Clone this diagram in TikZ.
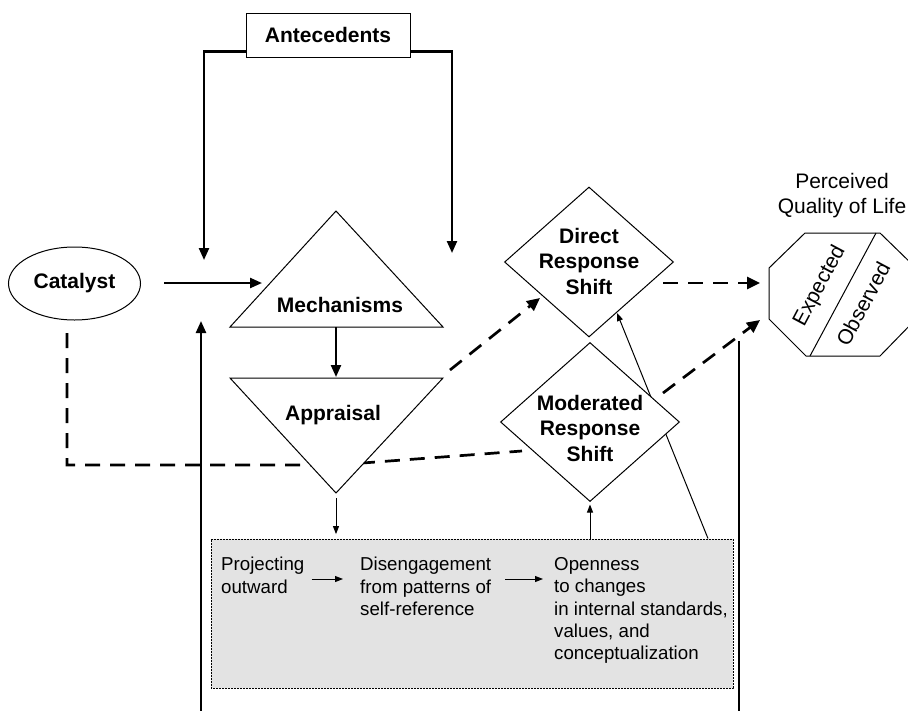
\documentclass[tikz,border=0pt]{standalone}
\usepackage{fontspec}
\setmainfont{Liberation Sans}
\usetikzlibrary{arrows.meta,shapes.geometric,calc}
\definecolor{boxgray}{RGB}{227,227,227}
\begin{document}
\begin{tikzpicture}[x=1pt,y=-1pt,
  outline/.style={draw=black,line width=1pt,line join=miter},
  boldlabel/.style={font=\fontsize{21}{25.5}\selectfont\bfseries,align=center,inner sep=0pt},
  plainlabel/.style={font=\fontsize{21}{25}\selectfont,align=center,inner sep=0pt},
  boxtext/.style={font=\fontsize{18.7}{22.4}\selectfont,align=left,inner sep=0pt,anchor=north west},
  thickarrow/.style={line width=2.3pt,-{Triangle[length=12pt,width=10pt]}},
  thickline/.style={line width=2.3pt},
  dasharrow/.style={line width=2.7pt,dash pattern=on 15pt off 10pt,-{Triangle[length=13pt,width=12pt]}},
  dashline/.style={line width=2.7pt,dash pattern=on 15pt off 10pt},
  thinarrow/.style={line width=1pt,-{Triangle[length=8pt,width=6pt]}},
  thinline/.style={line width=1pt},
]
\useasboundingbox (0,0) rectangle (908,710);
\clip (0,0) rectangle (908,710);

% ---------- gray box ----------
\node[draw=black,line width=0.8pt,dash pattern=on 0.8pt off 0.7pt,fill=boxgray,
      minimum width=522pt,minimum height=149pt,inner sep=0pt] (gbox) at (472,613.5) {};
\node[boxtext] (proj) at (221,557) {Projecting\\outward};
\node[boxtext] (dis) at (360,557) {Disengagement\\from patterns of\\self-reference};
\node[boxtext] (open) at (554,557) {Openness\\to changes\\in internal standards,\\values, and\\conceptualization};
\coordinate (arrowrow) at (0,579);
\draw[thinarrow] (proj.east |- arrowrow) ++(7,0) -- ([xshift=-17pt]dis.west |- arrowrow);
\draw[thinarrow] (dis.east |- arrowrow) ++(14,0) -- ([xshift=-11pt]open.west |- arrowrow);

% ---------- lines passing behind shapes ----------
\coordinate (boxCorner) at (708,538.5);
\coordinate (drsHit) at (617,313);
\draw[thinarrow] (boxCorner) -- (drsHit);

\coordinate (catDashStart) at (67,333);
\coordinate (catBend) at (336,465);
\coordinate (mrsHit) at (522,451);
\draw[dashline] (catDashStart) |- (catBend) -- (mrsHit);

% ---------- shapes ----------
\node[outline,fill=white,minimum width=164pt,minimum height=44pt,boldlabel] (ant) at (328,35) {Antecedents};
\node[ellipse,outline,fill=white,minimum width=132pt,minimum height=73pt,boldlabel] (cat) at (74.5,283.5) {Catalyst};

\coordinate (mechApex) at (336,211);
\coordinate (mechL) at (230,327);
\coordinate (mechR) at (443,327);
\draw[outline,fill=white] (mechL) -- (mechApex) -- (mechR) -- cycle;
\node[boldlabel] (mech) at (340,305) {Mechanisms};

\coordinate (apprL) at (230,378);
\coordinate (apprR) at (443,378);
\coordinate (apprTip) at (336,493);
\draw[outline,fill=white] (apprL) -- (apprR) -- (apprTip) -- cycle;
\node[boldlabel] (appr) at (333,415) {Appraisal};

\node[diamond,outline,fill=white,minimum width=169pt,minimum height=150pt,inner sep=0pt] (drs) at (589,262) {};
\node[boldlabel] (drsT) at (589,261) {Direct\\Response\\Shift};

\node[diamond,outline,fill=white,minimum width=179pt,minimum height=159pt,inner sep=0pt] (mrs) at (590,422) {};
\node[boldlabel] (mrsT) at (590,428) {Moderated\\Response\\Shift};

% octagon (Perceived Quality of Life)
\coordinate (o1) at (805,233);
\coordinate (o2) at (880,233);
\coordinate (o3) at (916,268);
\coordinate (o4) at (916,319);
\coordinate (o5) at (880,356);
\coordinate (o6) at (806,356);
\coordinate (o7) at (769,319);
\coordinate (o8) at (769,268);
\draw[outline,fill=white] (o1) -- (o2) -- (o3) -- (o4) -- (o5) -- (o6) -- (o7) -- (o8) -- cycle;
\coordinate (divTop) at (876,233);
\coordinate (divBot) at (810,356);
\draw[outline] (divTop) -- (divBot);
\node[plainlabel,rotate=62] (exp) at (820,286) {Expected};
\node[plainlabel,rotate=62] (obs) at (863,304) {Observed};
\node[plainlabel] (pqol) at (842,196) {Perceived\\Quality of Life};

% ---------- connectors ----------
\coordinate (antLtip) at (204,260);
\coordinate (antRtip) at (452,253);
\draw[thickarrow] (ant.south west) ++(0,-6) -| (antLtip);
\draw[thickarrow] (ant.south east) ++(0,-6) -| (antRtip);

\coordinate (catOut) at (164,283);
\coordinate (mechIn) at (262,283);
\draw[thickarrow] (catOut) -- (mechIn);

\coordinate (mechBase) at (336,327);
\coordinate (apprTop) at (336,377);
\draw[thickarrow] (mechBase) -- (apprTop);

\draw[thinarrow,shorten <=5pt,shorten >=4.5pt] (apprTip) -- (apprTip |- gbox.north);
\draw[thinarrow,shorten >=2.5pt] (mrs.south |- gbox.north) -- (mrs.south);

\coordinate (leftBottom) at (201,712);
\coordinate (leftTip) at (201,321);
\draw[thickarrow] (leftBottom) -- (leftTip);
\coordinate (rightTop) at (739,341);
\coordinate (rightBottom) at (739,712);
\draw[thickline] (rightTop) -- (rightBottom);

\coordinate (drsOut) at (663,283);
\coordinate (pqIn1) at (760,283);
\draw[dasharrow] (drsOut) -- (pqIn1);

\coordinate (apprOut) at (450,370);
\coordinate (drsIn) at (540,298);
\draw[dasharrow] (apprOut) -- (drsIn);

\coordinate (mrsOut) at (663,393);
\coordinate (pqIn2) at (760,320);
\draw[dasharrow] (mrsOut) -- (pqIn2);
\end{tikzpicture}
\end{document}
